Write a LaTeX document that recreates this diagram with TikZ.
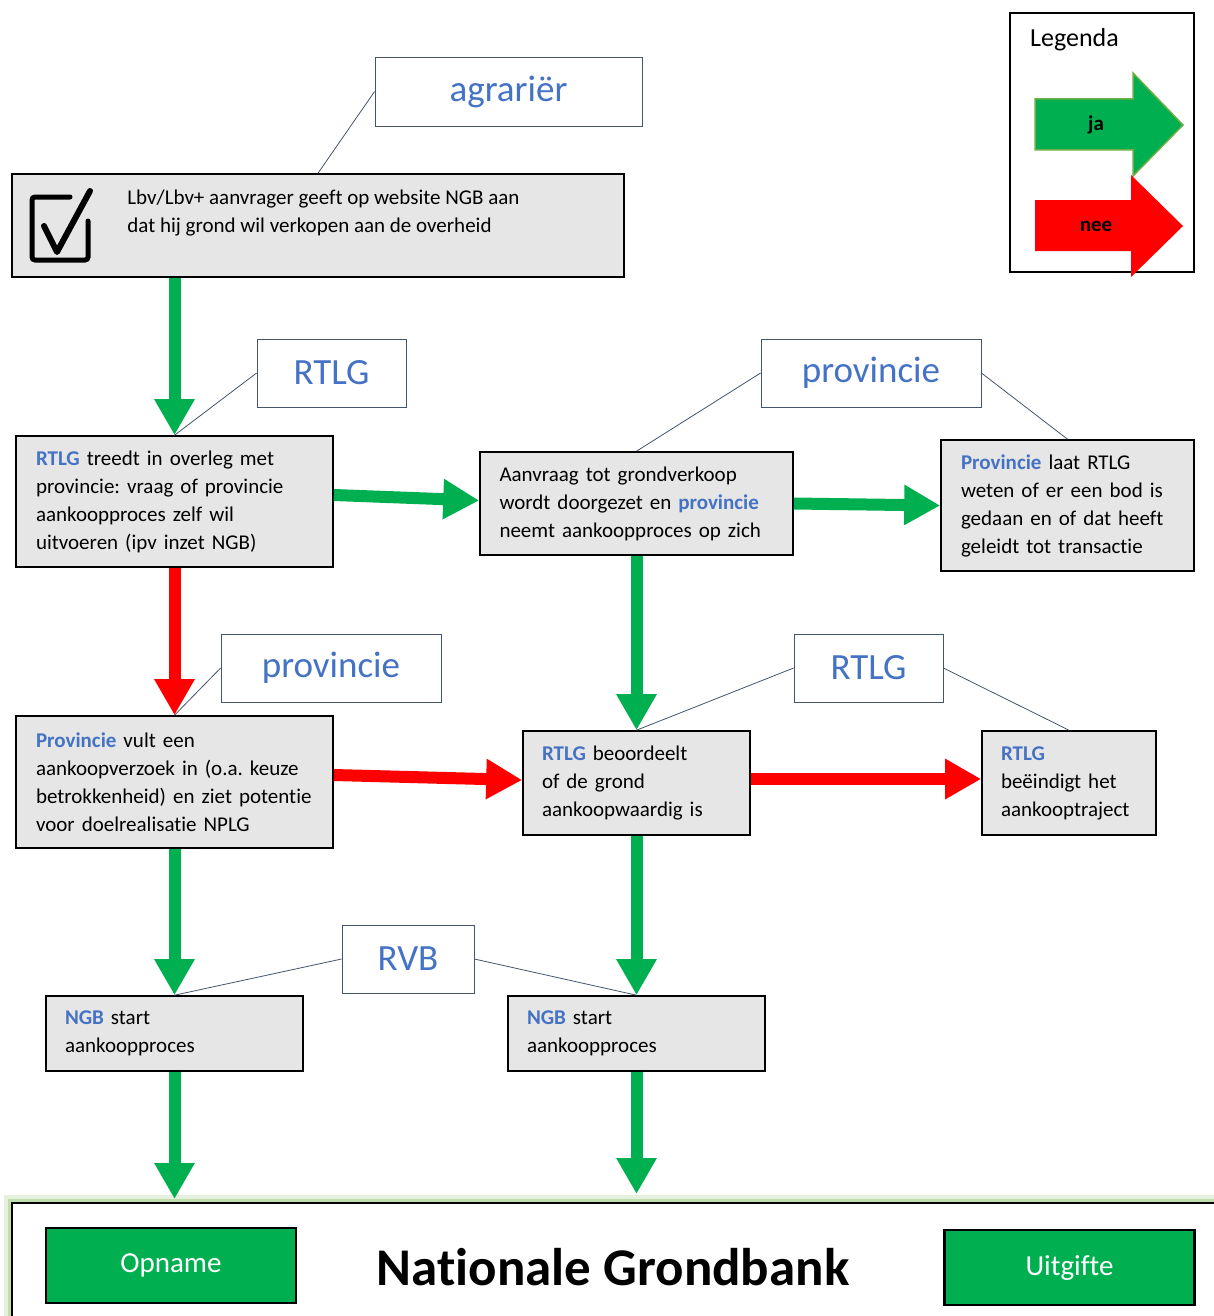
\documentclass[tikz,border=0pt]{standalone}
\usepackage{fontspec}
\setmainfont{Carlito}[Ligatures=NoCommon]
\usetikzlibrary{arrows.meta, positioning}
\frenchspacing

\definecolor{jagroen}{HTML}{00B050}
\definecolor{neerood}{HTML}{FF0000}
\definecolor{kwblauw}{HTML}{4472C4}
\definecolor{boxgrijs}{HTML}{E7E6E6}
\definecolor{rand}{HTML}{44546A}
\definecolor{legrand}{HTML}{70AD47}
\definecolor{gloed}{HTML}{A9D18E}

\newcommand{\blauw}[1]{{\bfseries\color{kwblauw}#1}}

\begin{document}
\begin{tikzpicture}[x=1pt, y=-1pt,
    stepbox/.style={
        draw=black, line width=1.6pt, fill=boxgrijs, align=left,
        inner xsep=20pt, inner ysep=0pt, font=\fontsize{21}{28}\selectfont
    },
    actor/.style={
        draw=rand, line width=0.8pt, fill=white, inner sep=0pt,
        font=\fontsize{37}{42}\selectfont, text=kwblauw
    },
    link/.style={draw=rand, line width=0.8pt},
    yes/.style={
        -{Triangle[length=36pt, width=38pt]}, line width=12pt, draw=jagroen
    },
    no/.style={
        -{Triangle[length=36pt, width=38pt]}, line width=12pt, draw=neerood
    },
    knop/.style={
        draw=black, line width=2.5pt, fill=jagroen, text=white, inner sep=0pt,
        minimum width=250pt, minimum height=75pt, font=\fontsize{29}{34}\selectfont
    }
]
\useasboundingbox (0,0) rectangle (1214,1316);
\path[clip] (0,0) rectangle (1214,1316);

% actoren
\node[actor, minimum width=267pt, minimum height=69pt] (agrarier) at (508.5,91.5) {agrariër};
\node[actor, minimum width=149pt, minimum height=68pt] (rtlgA) at (331.5,373) {RTLG};
\node[actor, minimum width=220pt, minimum height=68pt] (provA) at (871,373) {provincie};
\node[actor, minimum width=220pt, minimum height=68pt] (provB) at (331,668) {provincie};
\node[actor, minimum width=149pt, minimum height=68pt] (rtlgB) at (868.5,668) {RTLG};
\node[actor, minimum width=132pt, minimum height=68pt] (rvb) at (408,959) {RVB};

% stappen
\node[stepbox, minimum width=612pt, minimum height=103pt] (meld) at (318,225.5) {};
\node[anchor=north west, align=left, inner sep=0pt, font=\fontsize{21}{28}\selectfont]
    (meldtekst) at ([xshift=116pt, yshift=-17pt]meld.north west)
    {Lbv/Lbv+ aanvrager geeft op website NGB aan\\dat hij grond wil verkopen aan de overheid};
\node[stepbox, text width=277pt, minimum height=131pt] (overleg) at (174.5,501.5)
    {\blauw{RTLG} treedt in overleg met\\provincie: vraag of provincie\\aankoopproces zelf wil\\uitvoeren (ipv inzet NGB)};
\node[stepbox, text width=274pt, minimum height=103pt, inner xsep=19.5pt] (doorgezet) at (636.5,503.5)
    {Aanvraag tot grondverkoop\\wordt doorgezet en \blauw{provincie}\\neemt aankoopproces op zich};
\node[stepbox, text width=213pt, minimum height=131pt] (bod) at (1067.5,505.5)
    {\blauw{Provincie} laat RTLG\\weten of er een bod is\\gedaan en of dat heeft\\geleidt tot transactie};
\node[stepbox, text width=277pt, minimum height=132pt] (verzoek) at (174.5,782)
    {\blauw{Provincie} vult een\\aankoopverzoek in (o.a. keuze\\betrokkenheid) en ziet potentie\\voor doelrealisatie NPLG};
\node[stepbox, text width=189pt, minimum height=104pt, inner xsep=19pt] (beoordeelt) at (636.5,783)
    {\blauw{RTLG} beoordeelt\\of de grond\\aankoopwaardig is};
\node[stepbox, text width=136pt, minimum height=104pt, inner xsep=19pt] (einde) at (1069,783)
    {\blauw{RTLG}\\beëindigt het\\aankooptraject};
\node[stepbox, text width=219pt, minimum height=75pt, inner xsep=19pt] (ngbA) at (174.5,1033.5)
    {\blauw{NGB} start\\aankoopproces};
\node[stepbox, text width=219pt, minimum height=75pt, inner xsep=19pt] (ngbB) at (636.5,1033.5)
    {\blauw{NGB} start\\aankoopproces};

% vinkje
\draw[line width=5pt, rounded corners=3pt, line cap=round] (70,197) -- (32,197) -- (32,260) -- (88,260) -- (88,221);
\draw[line width=6pt, line join=round, line cap=round] (44,226) -- (57,252) -- (90,191);

% lijnen naar actoren
\draw[link] (agrarier.west) -- (meld.north);
\draw[link] (rtlgA.west) -- (overleg.north);
\draw[link] (provA.west) -- (doorgezet.north);
\draw[link] (provA.east) -- (bod.north);
\draw[link] (provB.west) -- (verzoek.north);
\draw[link] (rtlgB.west) -- (beoordeelt.north);
\draw[link] (rtlgB.east) -- (einde.north);
\draw[link] (rvb.west) -- (ngbA.north);
\draw[link] (rvb.east) -- (ngbB.north);

% grondbank
\node[draw=black, line width=2pt, fill=white, minimum width=1228pt, minimum height=140pt, inner sep=0pt,
    preaction={draw=gloed, line width=16pt, draw opacity=0.3},
    preaction={draw=gloed, line width=8pt, draw opacity=0.6}] (grondbank) at (626,1273) {};
\node[font=\fontsize{53}{60}\selectfont\bfseries] (titel) at (613,1267) {Nationale Grondbank};
\node[knop] (opname) at (171,1265.5) {Opname};
\node[knop] (uitgifte) at (1069.5,1267.5) {Uitgifte};

% pijlen
\draw[yes] (meld.south -| overleg.north) -- (overleg.north);
\draw[yes] ([yshift=6.5pt]overleg.east) -- ([yshift=3pt]doorgezet.west);
\draw[yes] (doorgezet.east) -- (bod.west);
\draw[no] (overleg.south) -- (verzoek.north);
\draw[yes] (doorgezet.south) -- (beoordeelt.north);
\draw[no] ([yshift=7pt]verzoek.east) -- ([yshift=3pt]beoordeelt.west);
\draw[no] ([yshift=4pt]beoordeelt.east) -- ([yshift=4pt]einde.west);
\draw[yes] (verzoek.south) -- (ngbA.north);
\draw[yes] (beoordeelt.south) -- (ngbB.north);
\draw[yes, shorten >=3pt] (ngbA.south) -- (ngbA.south |- grondbank.north);
\draw[yes, shorten >=8pt] (ngbB.south) -- (ngbB.south |- grondbank.north);

% legenda
\node[draw=black, line width=1.6pt, minimum width=184pt, minimum height=259pt] (legenda) at (1102,142.5) {};
\node[anchor=west, inner sep=0pt, font=\fontsize{26}{30}\selectfont] (legtitel) at (1030,40) {Legenda};
\draw[draw=legrand, line width=1.5pt, fill=jagroen] (1035,99) -- (1133,99) -- (1133,73) -- (1183,125)
    -- (1133,176) -- (1133,150) -- (1035,150) -- cycle;
\fill[neerood] (1035,200) -- (1131,200) -- (1131,175) -- (1183,226) -- (1131,277) -- (1131,251)
    -- (1035,251) -- cycle;
\node[font=\fontsize{21}{24}\selectfont\bfseries] (ja) at (1096,125) {ja};
\node[font=\fontsize{21}{24}\selectfont\bfseries] (nee) at (1096,226) {nee};

\end{tikzpicture}
\end{document}
